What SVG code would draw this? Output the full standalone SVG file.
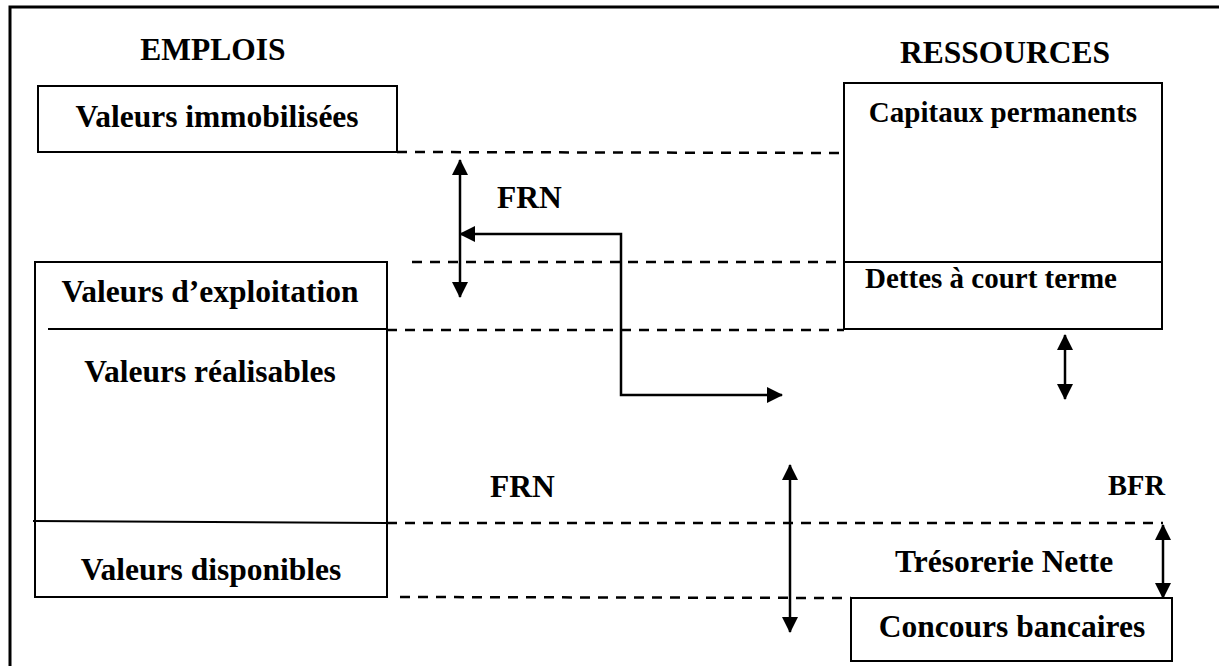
<svg xmlns="http://www.w3.org/2000/svg" width="1219" height="666" viewBox="0 0 1219 666">
  <style>
    .t { font-family: "Liberation Serif", "Times New Roman", serif; font-weight: bold; font-size: 31.5px; fill: #000; }
    .s { font-size: 29px; }
    .box { fill: none; stroke: #000; stroke-width: 2; }
    .dash { fill: none; stroke: #000; stroke-width: 2.5; stroke-dasharray: 10 8; }
    .arr { fill: none; stroke: #000; stroke-width: 2.5; marker-start: url(#ah); marker-end: url(#ah); }
  </style>
  <defs>
    <marker id="ah" viewBox="0 0 16 16" refX="15" refY="8" markerWidth="16" markerHeight="16" markerUnits="userSpaceOnUse" orient="auto-start-reverse">
      <path d="M0,0 L16,8 L0,16 z" fill="#000"/>
    </marker>
  </defs>
  <rect width="1219" height="666" fill="#fff"/>
  <g id="frame">
    <path d="M10,666 V7 H1219" fill="none" stroke="#000" stroke-width="3"/>
  </g>
  <g id="headers">
    <text class="t" x="213" y="60" text-anchor="middle">EMPLOIS</text>
    <text class="t" x="1005" y="63" text-anchor="middle">RESSOURCES</text>
  </g>
  <g id="valeurs-immobilisees">
    <rect class="box" x="38" y="86" width="359" height="66"/>
    <text class="t" x="217" y="127" text-anchor="middle">Valeurs immobilisées</text>
  </g>
  <g id="capitaux-permanents">
    <rect class="box" x="844" y="83" width="318" height="246"/>
    <line class="box" x1="844" y1="262" x2="1162" y2="262"/>
    <text class="t s" x="1003" y="122" text-anchor="middle">Capitaux permanents</text>
    <text class="t s" x="991" y="288" text-anchor="middle">Dettes à court terme</text>
  </g>
  <g id="actif-circulant">
    <rect class="box" x="35" y="262" width="352" height="335"/>
    <line class="box" x1="48" y1="329" x2="387" y2="329"/>
    <line class="box" x1="33" y1="521" x2="387" y2="523"/>
    <text class="t" x="210" y="302" text-anchor="middle">Valeurs d’exploitation</text>
    <text class="t" x="210" y="382" text-anchor="middle">Valeurs réalisables</text>
    <text class="t" x="211" y="580" text-anchor="middle">Valeurs disponibles</text>
  </g>
  <g id="concours-bancaires">
    <rect class="box" x="851" y="598" width="321" height="63"/>
    <text class="t" x="1012" y="637" text-anchor="middle">Concours bancaires</text>
  </g>
  <g id="labels">
    <text class="t" x="497" y="208">FRN</text>
    <text class="t" x="490" y="497">FRN</text>
    <text class="t" x="1108" y="495" style="font-size:28.5px">BFR</text>
    <text class="t" x="895" y="572">Trésorerie Nette</text>
  </g>
  <g id="connectors">
    <line class="dash" x1="397" y1="152" x2="844" y2="153"/>
    <line class="dash" x1="412" y1="262" x2="844" y2="262"/>
    <line class="dash" x1="387" y1="330" x2="844" y2="330"/>
    <line class="dash" x1="387" y1="523" x2="1163" y2="523"/>
    <line class="dash" x1="400" y1="597" x2="851" y2="598"/>
    <line class="arr" x1="460" y1="160" x2="460" y2="297"/>
    <path class="arr" d="M460,234 H621 V395 H782"/>
    <line class="arr" x1="790" y1="465" x2="790" y2="632"/>
    <line class="arr" x1="1065" y1="335" x2="1065" y2="399"/>
    <line class="arr" x1="1163" y1="525" x2="1163" y2="598"/>
  </g>
</svg>
